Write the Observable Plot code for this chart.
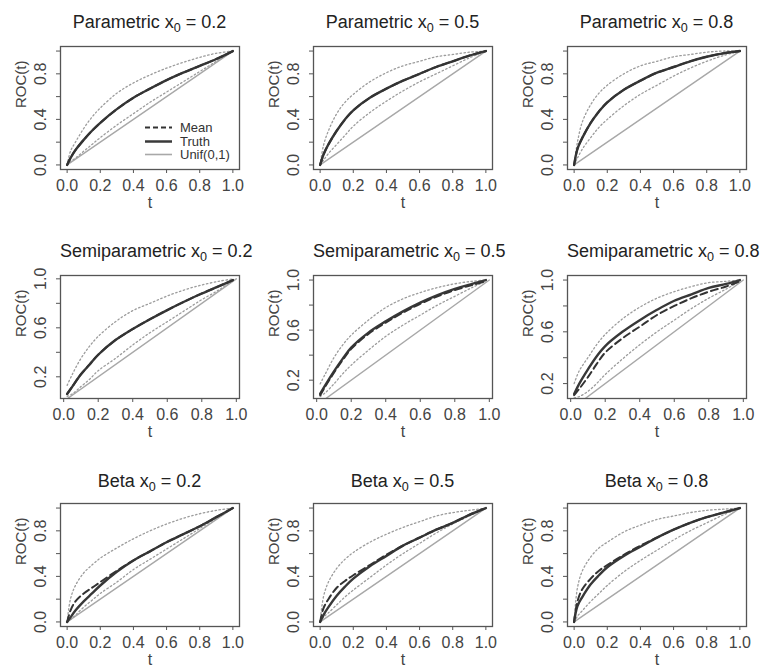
<!DOCTYPE html>
<html><head><meta charset="utf-8">
<script src="https://cdn.jsdelivr.net/npm/d3@7"></script>
<script src="https://cdn.jsdelivr.net/npm/@observablehq/plot@0.6"></script>
<style>
html,body{margin:0;padding:0;background:#fff;}
#fig{position:relative;width:761px;height:671px;overflow:hidden;font-family:"Liberation Sans",Arial,sans-serif;background:#fff;}
.title{position:absolute;text-align:center;font-size:18px;line-height:20px;color:#222;white-space:nowrap;}
.title sub{font-size:70%;vertical-align:-0.3em;line-height:0;}
.panel{position:absolute;}
.legend{position:absolute;font-size:13px;color:#333;line-height:13px;}
.legend .row{display:flex;align-items:center;height:13.5px;}
.legend svg{display:block;margin-right:8px;}
</style></head><body><div id="fig"></div>
<script>
// ---- labels ----
const methods = ["Parametric", "Semiparametric", "Beta"];
const x0Values = [0.2, 0.5, 0.8];
const legendLabels = ["Mean", "Truth", "Unif(0,1)"];
const xTicks = [0, 0.2, 0.4, 0.6, 0.8, 1.0];
const yTicksFull = [0, 0.2, 0.4, 0.6, 0.8, 1.0];
const yLabelsFull = [0, 0.4, 0.8];
const yTicksSemi = [0.2, 0.4, 0.6, 0.8, 1.0];
const yLabelsSemi = [0.2, 0.6, 1.0];

// ---- t grids ----
const tFull = [0, 0.02, 0.05, 0.1, 0.15, 0.2, 0.3, 0.4, 0.5, 0.6, 0.7, 0.8, 0.9, 1];
const tSemi = [0.02, 0.05, 0.1, 0.15, 0.2, 0.3, 0.4, 0.5, 0.6, 0.7, 0.8, 0.9, 0.98];
const unifT = [0, 1];

// ---- Parametric ----
const param02Truth = [0, 0.06, 0.13, 0.22, 0.30, 0.37, 0.49, 0.59, 0.67, 0.745, 0.81, 0.87, 0.93, 1];
const param02Mean  = [0, 0.06, 0.13, 0.22, 0.30, 0.37, 0.49, 0.59, 0.67, 0.745, 0.81, 0.87, 0.93, 1];
const param02Upper = [0, 0.12, 0.20, 0.32, 0.42, 0.50, 0.63, 0.72, 0.79, 0.85, 0.90, 0.945, 0.98, 1];
const param02Lower = [0, 0.03, 0.06, 0.12, 0.18, 0.24, 0.35, 0.45, 0.55, 0.64, 0.73, 0.82, 0.91, 1];

const param05Truth = [0, 0.09, 0.18, 0.30, 0.40, 0.48, 0.59, 0.67, 0.74, 0.80, 0.86, 0.91, 0.96, 1];
const param05Mean  = [0, 0.09, 0.18, 0.30, 0.40, 0.48, 0.59, 0.67, 0.74, 0.80, 0.86, 0.91, 0.96, 1];
const param05Upper = [0, 0.17, 0.30, 0.45, 0.55, 0.62, 0.73, 0.81, 0.87, 0.91, 0.95, 0.97, 0.99, 1];
const param05Lower = [0, 0.04, 0.10, 0.18, 0.26, 0.34, 0.46, 0.56, 0.65, 0.73, 0.80, 0.87, 0.94, 1];

const param08Truth = [0, 0.14, 0.24, 0.37, 0.47, 0.55, 0.66, 0.74, 0.81, 0.86, 0.91, 0.95, 0.98, 1];
const param08Mean  = [0, 0.14, 0.24, 0.37, 0.47, 0.55, 0.66, 0.74, 0.81, 0.86, 0.91, 0.95, 0.98, 1];
const param08Upper = [0, 0.20, 0.38, 0.53, 0.63, 0.70, 0.80, 0.87, 0.91, 0.95, 0.97, 0.99, 1.0, 1];
const param08Lower = [0, 0.06, 0.14, 0.24, 0.33, 0.40, 0.52, 0.62, 0.70, 0.78, 0.85, 0.91, 0.96, 1];

// ---- Semiparametric ----
const semi02Truth = [0.06, 0.12, 0.22, 0.30, 0.38, 0.50, 0.59, 0.67, 0.745, 0.815, 0.88, 0.94, 0.99];
const semi02Mean  = [0.06, 0.12, 0.22, 0.30, 0.38, 0.50, 0.59, 0.67, 0.745, 0.815, 0.88, 0.94, 0.99];
const semi02Upper = [0.13, 0.22, 0.35, 0.45, 0.53, 0.65, 0.74, 0.80, 0.86, 0.91, 0.95, 0.98, 1.0];
const semi02Lower = [0.04, 0.06, 0.12, 0.18, 0.25, 0.35, 0.46, 0.56, 0.65, 0.74, 0.83, 0.91, 0.99];

const semi05Truth = [0.09, 0.16, 0.27, 0.37, 0.46, 0.58, 0.67, 0.75, 0.82, 0.88, 0.93, 0.97, 1.0];
const semi05Mean  = [0.08, 0.15, 0.26, 0.36, 0.45, 0.57, 0.66, 0.74, 0.81, 0.87, 0.92, 0.96, 0.99];
const semi05Upper = [0.17, 0.25, 0.38, 0.48, 0.56, 0.68, 0.78, 0.85, 0.90, 0.94, 0.97, 0.99, 1.0];
const semi05Lower = [0.07, 0.10, 0.17, 0.25, 0.32, 0.44, 0.55, 0.64, 0.72, 0.80, 0.87, 0.94, 0.99];

const semi08Truth = [0.12, 0.20, 0.31, 0.41, 0.49, 0.60, 0.69, 0.77, 0.84, 0.89, 0.94, 0.97, 1.0];
const semi08Mean  = [0.11, 0.16, 0.25, 0.35, 0.44, 0.55, 0.64, 0.73, 0.80, 0.86, 0.91, 0.95, 0.99];
const semi08Upper = [0.20, 0.30, 0.40, 0.50, 0.58, 0.70, 0.79, 0.86, 0.91, 0.95, 0.98, 0.99, 1.0];
const semi08Lower = [0.09, 0.10, 0.14, 0.20, 0.27, 0.39, 0.50, 0.60, 0.69, 0.78, 0.86, 0.93, 0.99];

// ---- Beta ----
const beta02Truth = [0, 0.04, 0.10, 0.18, 0.25, 0.32, 0.44, 0.54, 0.62, 0.70, 0.77, 0.84, 0.92, 1];
const beta02Mean  = [0, 0.10, 0.18, 0.25, 0.30, 0.35, 0.45, 0.54, 0.62, 0.70, 0.77, 0.84, 0.92, 1];
const beta02Upper = [0, 0.20, 0.32, 0.43, 0.50, 0.56, 0.65, 0.73, 0.80, 0.86, 0.91, 0.95, 0.98, 1];
const beta02Lower = [0, 0.02, 0.06, 0.13, 0.19, 0.25, 0.35, 0.46, 0.55, 0.64, 0.73, 0.82, 0.91, 1];

const beta05Truth = [0, 0.06, 0.13, 0.23, 0.31, 0.38, 0.49, 0.58, 0.67, 0.74, 0.81, 0.87, 0.94, 1];
const beta05Mean  = [0, 0.12, 0.20, 0.30, 0.36, 0.41, 0.50, 0.59, 0.67, 0.74, 0.81, 0.87, 0.94, 1];
const beta05Upper = [0, 0.22, 0.35, 0.47, 0.55, 0.61, 0.70, 0.77, 0.83, 0.88, 0.93, 0.96, 0.98, 1];
const beta05Lower = [0, 0.04, 0.08, 0.15, 0.22, 0.28, 0.39, 0.50, 0.60, 0.69, 0.78, 0.86, 0.93, 1];

const beta08Truth = [0, 0.14, 0.22, 0.33, 0.41, 0.48, 0.58, 0.66, 0.74, 0.81, 0.87, 0.92, 0.96, 1];
const beta08Mean  = [0, 0.18, 0.29, 0.38, 0.45, 0.50, 0.59, 0.67, 0.74, 0.81, 0.87, 0.92, 0.96, 1];
const beta08Upper = [0, 0.30, 0.45, 0.57, 0.65, 0.70, 0.79, 0.85, 0.90, 0.93, 0.96, 0.98, 0.99, 1];
const beta08Lower = [0, 0.05, 0.10, 0.18, 0.25, 0.32, 0.44, 0.54, 0.63, 0.72, 0.80, 0.87, 0.94, 1];

// ---- assemble (rows = method, cols = x0) ----
const panelSeries = [
  [[param02Truth, param02Mean, param02Upper, param02Lower],
   [param05Truth, param05Mean, param05Upper, param05Lower],
   [param08Truth, param08Mean, param08Upper, param08Lower]],
  [[semi02Truth, semi02Mean, semi02Upper, semi02Lower],
   [semi05Truth, semi05Mean, semi05Upper, semi05Lower],
   [semi08Truth, semi08Mean, semi08Upper, semi08Lower]],
  [[beta02Truth, beta02Mean, beta02Upper, beta02Lower],
   [beta05Truth, beta05Mean, beta05Upper, beta05Lower],
   [beta08Truth, beta08Mean, beta08Upper, beta08Lower]]
];

// ---- layout ----
const colLeft = [60, 313, 567];
const rowTop = [46, 275, 503];
const titleBase = [28, 257, 487];
const boxW = 179, boxH = 123;
const ML = 60, MR = 8, MT = 8, MB = 46;
const fmt = d3.format(".1f");
const fig = document.getElementById("fig");

function rExtend(lo, hi) { const e = 0.04 * (hi - lo); return [lo - e, hi + e]; }

methods.forEach((method, r) => {
  x0Values.forEach((x0, c) => {
    const [truth, mean, upper, lower] = panelSeries[r][c];
    const semi = r === 1;
    const ts = semi ? tSemi : tFull;
    const rows = ys => ts.map((t, i) => ({t, v: ys[i]}));
    const xDom = rExtend(d3.min(ts), d3.max(ts));
    const yDom = rExtend(d3.min(truth), d3.max(truth));
    const yTicks = semi ? yTicksSemi : yTicksFull;
    const yLabels = semi ? yLabelsSemi : yLabelsFull;
    const unifRows = unifT.map(t => ({t, v: t}));

    const svg = Plot.plot({
      width: ML + boxW + MR,
      height: MT + boxH + MB,
      marginLeft: ML, marginRight: MR, marginTop: MT, marginBottom: MB,
      x: {domain: xDom},
      y: {domain: yDom},
      style: {fontFamily: '"Liberation Sans", Arial, sans-serif', fontSize: "16px", color: "#444", background: "transparent", overflow: "visible"},
      marks: [
        Plot.line(unifRows, {x: "t", y: "v", stroke: "#a8a8a8", strokeWidth: 1.4, clip: true}),
        Plot.line(rows(upper), {x: "t", y: "v", stroke: "#9c9c9c", strokeWidth: 1.3, strokeDasharray: "1.5,2.5", curve: "catmull-rom", clip: true}),
        Plot.line(rows(lower), {x: "t", y: "v", stroke: "#9c9c9c", strokeWidth: 1.3, strokeDasharray: "1.5,2.5", curve: "catmull-rom", clip: true}),
        Plot.line(rows(truth), {x: "t", y: "v", stroke: "#383838", strokeWidth: 2.4, curve: "catmull-rom", clip: true}),
        Plot.line(rows(mean), {x: "t", y: "v", stroke: "#333", strokeWidth: 2, strokeDasharray: "7,4", curve: "catmull-rom", clip: true}),
        Plot.frame({stroke: "#555", strokeWidth: 1.3}),
        Plot.axisX(xTicks, {tickSize: 4, tickPadding: 6, tickFormat: fmt, stroke: "#555", fontSize: 16, label: null}),
        Plot.axisY(yTicks, {tickSize: 4, tickPadding: 11, tickRotate: -90, textAnchor: "middle", lineAnchor: "bottom", fontSize: 16,
          tickFormat: d => yLabels.includes(d) ? fmt(d) : "", stroke: "#555", label: null}),
        Plot.text(["t"], {frameAnchor: "bottom", dy: 38, lineAnchor: "bottom", fill: "#444", fontSize: 16}),
        Plot.text(["ROC(t)"], {frameAnchor: "left", dx: -35, rotate: -90, lineAnchor: "bottom", fill: "#444", fontSize: 15})
      ]
    });
    const wrap = document.createElement("div");
    wrap.className = "panel";
    wrap.style.left = (colLeft[c] - ML) + "px";
    wrap.style.top = (rowTop[r] - MT) + "px";
    wrap.appendChild(svg);
    fig.appendChild(wrap);

    const title = document.createElement("div");
    title.className = "title";
    title.style.left = colLeft[c] + "px";
    title.style.width = boxW + "px";
    title.style.top = (titleBase[r] - 16) + "px";
    title.innerHTML = `${method} x<sub>0</sub> = ${x0}`;
    fig.appendChild(title);
  });
});

// legend in first panel
const legendStyles = [
  {stroke: "#333", width: 2, dash: "5,3"},
  {stroke: "#3a3a3a", width: 2.5, dash: null},
  {stroke: "#a8a8a8", width: 1.6, dash: null}
];
const legend = document.createElement("div");
legend.className = "legend";
legend.style.left = "145px";
legend.style.top = "121px";
legendLabels.forEach((lab, i) => {
  const row = document.createElement("div");
  row.className = "row";
  const s = legendStyles[i];
  row.innerHTML = `<svg width="27" height="13"><line x1="0" x2="27" y1="6.5" y2="6.5" stroke="${s.stroke}" stroke-width="${s.width}" ${s.dash ? `stroke-dasharray="${s.dash}"` : ""}/></svg><span>${lab}</span>`;
  legend.appendChild(row);
});
fig.appendChild(legend);
</script></body></html>
